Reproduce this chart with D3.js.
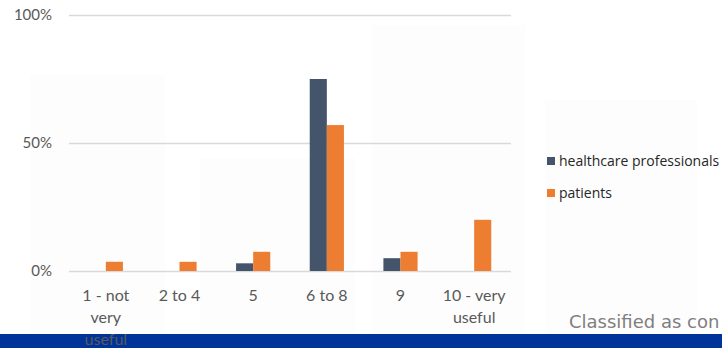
<!DOCTYPE html>
<html>
<head>
<meta charset="utf-8">
<script src="https://cdn.jsdelivr.net/npm/d3@7"></script>
<style>
  body { margin: 0; background: #fff; }
  svg { display: block; }
  .tick text { font-family: Lato, "Open Sans", sans-serif; fill: #595959; }
</style>
</head>
<body>
<svg id="chart" width="722" height="348"></svg>
<script>
// chart values
const categories = ['1 - not very useful', '2 to 4', '5', '6 to 8', '9', '10 - very useful'];
const categoryLines = [['1 - not', 'very', 'useful'], ['2 to 4'], ['5'], ['6 to 8'], ['9'], ['10 - very', 'useful']];
const healthcare = [0, 0, 3, 75, 5, 0];
const patients = [3.6, 3.6, 7.5, 57, 7.5, 20];
const seriesNames = ['healthcare professionals', 'patients'];
const yTicks = [0, 50, 100];

const colours = ['#44546A', '#ED7D31'];

const svg = d3.select('#chart');
const margin = { left: 69, right: 211, top: 15, bottom: 77 };
const width = 722, height = 348;

// faint background boxes seen behind the chart
const ghosts = [[30, 75, 135, 261], [200, 158, 155, 178], [372, 25, 153, 311], [545, 100, 152, 236]];
svg.selectAll('rect.ghost').data(ghosts).enter().append('rect')
  .attr('class', 'ghost')
  .attr('x', d => d[0]).attr('y', d => d[1])
  .attr('width', d => d[2]).attr('height', d => d[3])
  .attr('fill', '#fdfdfd');

const x = d3.scaleBand()
  .domain(categories)
  .range([margin.left, width - margin.right]);

const y = d3.scaleLinear()
  .domain([0, 100])
  .range([height - margin.bottom, margin.top]);

// gridlines + y labels
const yAxis = svg.append('g')
  .attr('transform', `translate(${margin.left},0)`)
  .call(d3.axisLeft(y).tickValues(yTicks).tickFormat(d => d + '%')
    .tickSize(-(width - margin.left - margin.right)).tickPadding(17));
yAxis.select('.domain').remove();
yAxis.selectAll('.tick line').attr('stroke', '#d9d9d9').attr('stroke-width', 1.5);
yAxis.selectAll('.tick text').attr('font-size', 15);

// bars
const barW = x.bandwidth() * 0.232;
const rows = categories.map((c, i) => ({ c, vals: [healthcare[i], patients[i]] }));
const groups = svg.selectAll('g.cat').data(rows).enter().append('g')
  .attr('class', 'cat')
  .attr('transform', d => `translate(${x(d.c) + x.bandwidth() / 2},0)`);
groups.selectAll('rect').data(d => d.vals).enter().append('rect')
  .attr('x', (d, i) => (i - 1) * barW)
  .attr('width', barW)
  .attr('y', d => y(d))
  .attr('height', d => y(0) - y(d))
  .attr('fill', (d, i) => colours[i]);

// legend
const legend = svg.selectAll('g.legend').data(seriesNames).enter().append('g')
  .attr('class', 'legend')
  .attr('transform', (d, i) => `translate(547,${161 + i * 32})`);
legend.append('rect').attr('width', 8).attr('height', 8).attr('y', -4)
  .attr('fill', (d, i) => colours[i]);
legend.append('text').attr('x', 12).attr('dy', '0.35em')
  .attr('font-family', '"Open Sans", sans-serif').attr('font-size', 14)
  .attr('fill', '#262626')
  .text(d => d);

// footer band and classification note
svg.append('text')
  .attr('x', 569).attr('y', 328)
  .attr('font-family', '"DejaVu Sans", Verdana, sans-serif')
  .attr('font-size', 18)
  .attr('fill', '#7f7f7f')
  .text('Classified as con');
svg.append('rect')
  .attr('x', 0).attr('y', 334).attr('width', width).attr('height', 14)
  .attr('fill', '#003399');

// category labels (last line of the first one runs over the band)
const xl = svg.selectAll('text.xl').data(categories).enter().append('text')
  .attr('class', 'xl')
  .attr('x', d => x(d) + x.bandwidth() / 2)
  .attr('y', 301)
  .attr('text-anchor', 'middle')
  .attr('font-family', 'Lato, "Open Sans", sans-serif')
  .attr('font-size', 16)
  .attr('fill', '#595959');
xl.each(function (d, i) {
  d3.select(this).selectAll('tspan').data(categoryLines[i]).enter().append('tspan')
    .attr('x', x(d) + x.bandwidth() / 2)
    .attr('dy', (t, j) => j === 0 ? 0 : 22)
    .text(t => t);
});
</script>
</body>
</html>
